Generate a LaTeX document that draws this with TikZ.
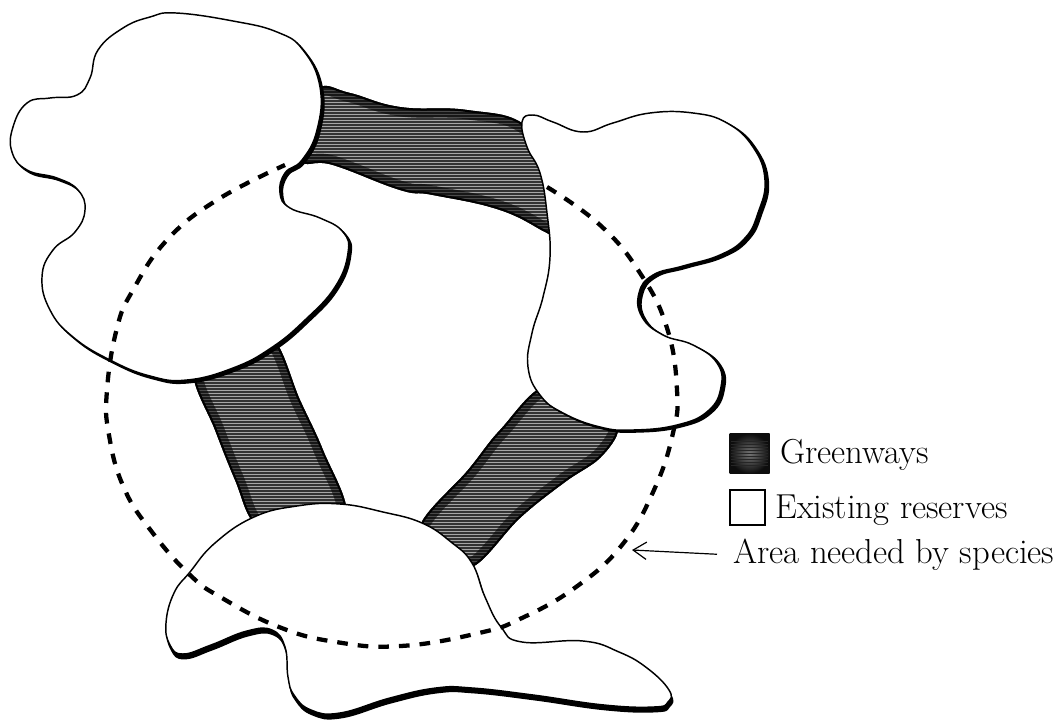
\documentclass[tikz,border=0pt]{standalone}
\usetikzlibrary{arrows.meta}
\newcommand{\greenwayTop}{plot[smooth cycle, tension=0.75] coordinates {(318,88) (350,93) (400,107) (467,110) (525,125) (552,170) (556,236) (547,233) (500,210) (433,195) (400,190) (333,165) (300,160) (300,120)}}
\newcommand{\greenwayLeft}{plot[smooth cycle, tension=0.6] coordinates {(194,372) (232,350) (272,338) (300,400) (323,450) (346,515) (300,535) (256,525) (235,480) (215,430)}}
\newcommand{\greenwayRight}{plot[smooth cycle, tension=0.6] coordinates {(548,385) (600,415) (618,430) (600,458) (565,482) (520,518) (474,566) (440,560) (420,526) (468,470) (500,430)}}
\newcommand{\reserveTop}{plot[smooth cycle, tension=0.75] coordinates {(176,13) (233,21) (277,32) (303,50) (320,87) (317,130) (302,160) (285,173) (280,193) (290,208) (320,218) (343,232) (348,253) (335,287) (305,320) (271,348) (233,368) (187,380) (150,376) (110,360) (73,337) (50,310) (42,277) (53,250) (75,232) (85,210) (78,190) (57,178) (27,170) (12,152) (13,127) (27,103) (50,98) (77,95) (90,78) (98,50) (123,28) (150,17)}}
\newcommand{\reserveRight}{plot[smooth cycle, tension=0.75] coordinates {(522,122) (533,115) (553,122) (583,132) (613,123) (650,113) (693,113) (727,123) (753,147) (765,180) (758,213) (745,238) (720,255) (683,266) (653,275) (639,293) (642,317) (663,335) (693,345) (717,363) (721,387) (708,411) (677,425) (633,430) (600,427) (563,413) (540,395) (528,367) (532,333) (543,297) (550,257) (547,213) (540,173) (527,147)}}
\newcommand{\reserveBottom}{plot[smooth cycle, tension=0.75] coordinates {(340,504) (383,512) (422,523) (451,542) (472,563) (485,597) (501,627) (522,642) (583,641) (619,652) (647,668) (669,690) (668,702) (654,707) (604,705) (533,695) (472,688) (436,688) (390,698) (340,713) (311,710) (294,695) (288,677) (285,647) (272,630) (247,631) (211,645) (183,654) (170,645) (166,623) (174,593) (190,572) (215,543) (254,517) (297,506)}}
\begin{document}
\begin{tikzpicture}[
        x=0.75pt, y=-0.75pt,
        greenway/.style={fill=black!80},
        hatchline/.style={draw=black!35, line width=0.5pt},
        greenedge/.style={draw=black, line width=3pt},
        reserve/.style={draw=black, fill=white, line width=1.1pt},
        shadow/.style={draw=black, fill=black, line width=1.1pt},
        greenkey/.style={draw=none, inner color=black!55, outer color=black!95, minimum size=30pt, inner sep=0pt},
        reservekey/.style={draw=black, line width=1.2pt, fill=white, minimum size=26.5pt, inner sep=0pt},
        keytext/.style={anchor=base west, inner sep=0pt, font=\fontsize{26}{29}\selectfont},
        arealine/.style={draw=black, line width=3.2pt, dash pattern=on 8pt off 7.5pt}
    ]
        \useasboundingbox (0,0) rectangle (1060,721);

        \foreach \greenpath in {\greenwayTop,\greenwayLeft,\greenwayRight}{
            \begin{scope}
                \clip \greenpath;
                \fill[greenway] (0,0) rectangle (1060,721);
                \foreach \y in {84,87,...,570}{
                    \draw[hatchline] (190,\y) -- (630,\y);
                }
                \draw[draw=black, opacity=0.55, line width=14pt] \greenpath;
                \draw[greenedge] \greenpath;
            \end{scope}
        }

        \draw[shadow, xshift=2pt, yshift=-2pt] \reserveTop;
        \draw[shadow, xshift=2.5pt, yshift=-1.5pt] \reserveRight;
        \draw[shadow, xshift=1pt, yshift=-3.5pt] \reserveBottom;
        \draw[reserve] \reserveTop;
        \draw[reserve] \reserveRight;
        \draw[reserve] \reserveBottom;

        \draw[arealine] plot[smooth, tension=0.75] coordinates {(547,187) (600,225) (640,273) (667,328) (677,390) (673,433) (654,490) (622,545) (576,587) (522,618) (479,633) (401,646) (336,642) (279,627) (222,598) (190,575) (152,532) (124,488) (109,435) (107,390) (117,328) (133,290) (167,240) (217,200) (285,165)};

        \node (greenbox) [greenkey] at (749.5,453.5) {};
        \foreach \y in {441,444,...,466}{
            \draw[draw=black!85, line width=0.5pt] (731,\y) -- (768,\y);
        }
        \node (reservebox) [reservekey] at (747.5,507.5) {};
        \node (greenlabel) [keytext] at (780,463) {Greenways};
        \node (reservelabel) [keytext] at (775,518) {Existing reserves};
        \node (arealabel) [keytext] at (733,563) {Area needed by species};
        \coordinate (areatip) at (632,550);
        \draw[-{Straight Barb[length=10pt,width=13pt]}, line width=0.9pt] ([xshift=-12pt]arealabel.west) -- (areatip);
    \end{tikzpicture}
\end{document}
